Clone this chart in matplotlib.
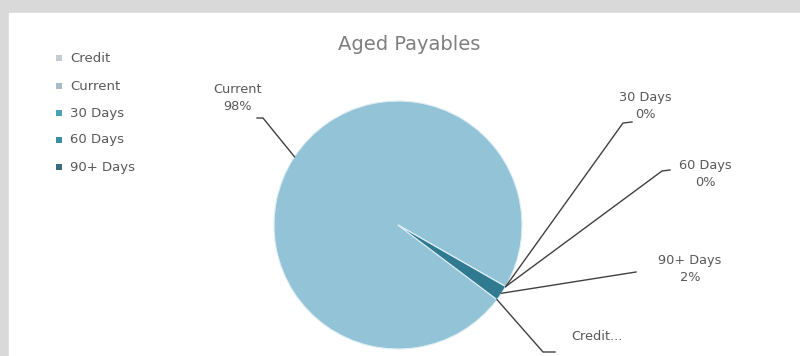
import numpy as np
import matplotlib
matplotlib.use("Agg")
import matplotlib.pyplot as plt

categories = ["Credit", "Current", "30 Days", "60 Days", "90+ Days"]
values = [0.0, 98.0, 0.0, 0.0, 2.0]
pct_labels = ["Credit...", "Current\n98%", "30 Days\n0%", "60 Days\n0%", "90+ Days\n2%"]

slice_colors = ["#c9d6dc", "#93c3d6", "#4aa3b6", "#3a8ea3", "#2f7a90"]
legend_colors = ["#c3ccd1", "#a9bcc6", "#4aa3b6", "#3a8ea3", "#3b6f80"]

W, H = 800, 356
fig = plt.figure(figsize=(8, 3.56), dpi=100)
fig.patch.set_facecolor("#d9d9d9")

ax = fig.add_axes([0, 0, 1, 1])
cx, cy, r = 398, H - 225, 124
wedges, _ = ax.pie(values, colors=slice_colors, center=(cx, cy), radius=r,
                   startangle=-37, counterclock=False, frame=True,
                   wedgeprops=dict(edgecolor="#dfeef4", linewidth=0.8))
ax.set_xlim(0, W)
ax.set_ylim(0, H)
ax.set_aspect("equal")
ax.axis("off")

# white chart area inside the gray frame
ax.add_patch(plt.Rectangle((9, 0), W - 9, H - 13, color="white", zorder=-5))

# label text positions (pixels, y down) and leader line elbows
text_pos = [(597, 337), (238, 98), (645, 106), (705, 174), (690, 269)]
elbow = [((543, 352), (555, 352)), ((263, 118), (257, 118)),
         ((623, 123), (632, 122)), ((662, 171), (670, 170)),
         ((636, 272), (636, 272))]
anchor_angle = []
for i, w in enumerate(wedges):
    if values[i] == 0:
        a = w.theta1
    else:
        a = (w.theta1 + w.theta2) / 2
    anchor_angle.append(a)

for i, lab in enumerate(pct_labels):
    a = np.deg2rad(anchor_angle[i])
    px, py = cx + r * np.cos(a), cy + r * np.sin(a)
    (ex, ey), (hx, hy) = elbow[i]
    ax.plot([px, ex, hx], [py, H - ey, H - hy], color="#404040", lw=1.0, zorder=5)
    ax.text(text_pos[i][0], H - text_pos[i][1], lab, ha="center", va="center",
            fontsize=9.3, color="#595959", linespacing=1.45, zorder=6)

ax.text(409, H - 45, "Aged Payables", ha="center", va="center",
        fontsize=14, color="#7f7f7f")

leg_y = [58, 86, 113, 140, 167]
for name, col, y in zip(categories, legend_colors, leg_y):
    ax.add_patch(plt.Rectangle((56, H - y - 3), 6, 6, color=col, lw=0))
    ax.text(70, H - y, name, ha="left", va="center", fontsize=9.5, color="#595959")

fig.savefig("out.png", dpi=100, facecolor=fig.get_facecolor())
